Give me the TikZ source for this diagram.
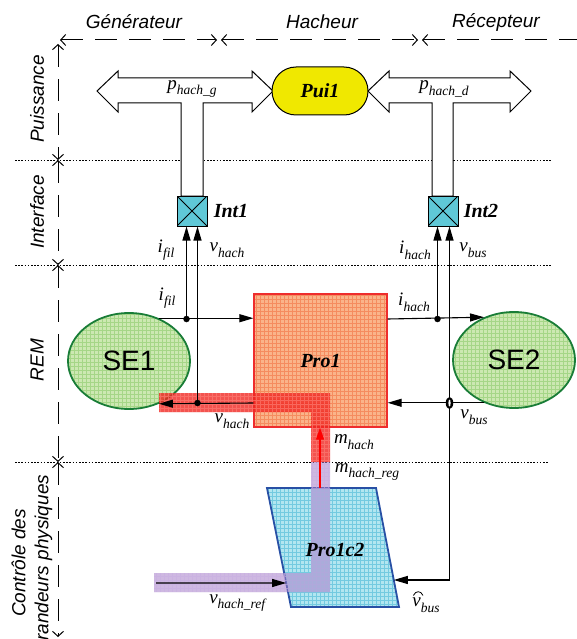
\documentclass[tikz,border=0pt]{standalone}
\usepackage{fontspec}
\setmainfont{Liberation Serif}
\newfontfamily\axisfont{Liberation Sans}
\usetikzlibrary{arrows.meta,shapes.geometric,shapes.misc,calc}
\definecolor{puiyellow}{RGB}{240,232,0}
\definecolor{intcyan}{RGB}{95,200,215}
\definecolor{sefill}{RGB}{204,232,178}
\definecolor{segrid}{RGB}{165,214,135}
\definecolor{seborder}{RGB}{25,125,55}
\definecolor{profill}{RGB}{250,180,138}
\definecolor{progrid}{RGB}{245,140,95}
\definecolor{proborder}{RGB}{238,45,45}
\definecolor{ptwofill}{RGB}{178,230,240}
\definecolor{ptwogrid}{RGB}{115,202,224}
\definecolor{ptwoborder}{RGB}{40,80,165}
\definecolor{bandred}{RGB}{240,40,35}
\definecolor{bandredgrid}{RGB}{255,130,120}
\definecolor{bandpurple}{RGB}{165,125,200}
\definecolor{bandpurplegrid}{RGB}{200,175,225}
\newcommand\vv[2]{\textit{#1}\raisebox{-0.3em}{\fontsize{13.5}{14}\selectfont\textit{#2}}}
\begin{document}
\begin{tikzpicture}[x=1pt,y=-1pt,
  arr/.style={line width=1.1pt,-{Triangle[length=14pt,width=8pt]}},
  redarr/.style={line width=1.1pt,red,-{Triangle[length=12pt,width=8pt]}},
  dotline/.style={line width=0.8pt,dash pattern=on 1.6pt off 1.6pt},
  axisline/.style={line width=1pt,dash pattern=on 22pt off 12pt},
  >={Straight Barb[length=5pt,width=11pt]},
  gridfill/.style 2 args={fill=#1,path picture={\draw[#2,line width=0.4pt] (path picture bounding box.south west) grid[step=4pt] (path picture bounding box.north east);}},
  boldlab/.style={font=\fontsize{20}{22}\selectfont\bfseries\itshape},
  varlab/.style={font=\fontsize{19}{21}\selectfont,inner sep=0pt},
  axislab/.style={font=\axisfont\fontsize{19}{21}\selectfont\itshape,inner sep=0pt},
  selab/.style={font=\axisfont\fontsize{28}{30}\selectfont},
  dot/.style={circle,fill=black,inner sep=0pt,minimum size=6.5pt},
  intbox/.style={draw,line width=1pt,fill=intcyan,minimum size=30pt,inner sep=0pt,
    path picture={\draw[line width=0.9pt] (path picture bounding box.south west) -- (path picture bounding box.north east) (path picture bounding box.north west) -- (path picture bounding box.south east);}},
  dblarrow/.style={draw,line width=1pt,fill=white,line join=miter}
]
\useasboundingbox (0,0) rectangle (576,639);

% ---------- axes ----------
\node[axislab] (gen) at (134,22) {Générateur};
\node[axislab] (hac) at (322,22) {Hacheur};
\node[axislab] (rec) at (496,22) {Récepteur};
\coordinate (h0) at (60,40);
\coordinate (h1) at (217,40);
\coordinate (h2) at (221,40);
\coordinate (h3) at (418,40);
\coordinate (h4) at (422,40);
\coordinate (h5) at (582,40);
\draw[axisline,<->] (h0) -- (h1);
\draw[axisline,<->] (h2) -- (h3);
\draw[axisline,<-] (h4) -- (h5);
\coordinate (v0) at (58,44);
\coordinate (v1) at (58,160);
\coordinate (v2) at (58,265);
\coordinate (v3) at (58,462);
\coordinate (v4) at (58,637);
\draw[axisline,<->] (v0) -- (v1);
\draw[axisline,<->] (v1) -- (v2);
\draw[axisline,<->] (v2) -- (v3);
\draw[axisline,<->] (v3) -- (v4);

\draw[dotline] (15,160) -- (552,160);
\draw[dotline] (15,265) -- (552,265);
\draw[dotline] (15,462) -- (548,462);

\node[axislab,rotate=90] (lpui) at (37,99) {Puissance};
\node[axislab,rotate=90] (lint) at (37,212) {Interface};
\node[axislab,rotate=90] (lrem) at (37,360) {REM};
\node[axislab,rotate=90,align=center,font=\axisfont\fontsize{19}{23}\selectfont\itshape] (lctl) at (32,563) {Contrôle des\\grandeurs physiques};

% ---------- power level ----------
\path[dblarrow] (97,91) -- (118,71) -- (118,78) -- (252,78) -- (252,71) -- (273,91) -- (252,112) -- (252,103) -- (203,103) -- (203,196) -- (181,196) -- (181,103) -- (118,103) -- (118,112) -- cycle;
\path[dblarrow] (368,91) -- (389,71) -- (389,78) -- (510,78) -- (510,71) -- (531,91) -- (510,112) -- (510,103) -- (453,103) -- (453,196) -- (432,196) -- (432,103) -- (389,103) -- (389,112) -- cycle;
\node[rounded rectangle,draw,line width=1pt,fill=puiyellow,minimum width=96pt,minimum height=48pt,inner sep=0pt,boldlab] (Pui1) at (320,91) {Pui1};
\node[varlab] (pg) at (192,89) {\vv{p}{hach\_g}};
\node[varlab] (pd) at (444,89) {\vv{p}{hach\_d}};

% ---------- interface ----------
\node[intbox] (Int1) at (192,211) {};
\node[intbox] (Int2) at (443,211) {};
\node[boldlab,inner sep=0pt] (l1) at (231,211) {Int1};
\node[boldlab,inner sep=0pt] (l2) at (481,211) {Int2};

% ---------- REM ----------
\node[ellipse,minimum width=122pt,minimum height=96pt,inner sep=0pt,draw=seborder,line width=1.8pt,gridfill={sefill}{segrid},selab] (SE1) at (129,361) {SE1};
\node[ellipse,minimum width=122pt,minimum height=96pt,inner sep=0pt,draw=seborder,line width=1.8pt,gridfill={sefill}{segrid},selab] (SE2) at (514,360) {SE2};
\node[draw=proborder,line width=1.3pt,gridfill={profill}{progrid},minimum width=133pt,minimum height=133pt,inner sep=0pt,boldlab] (Pro1) at (320.5,360.5) {Pro1};

% ---------- control ----------
\coordinate (ptl) at (267,488);
\coordinate (ptr) at (376,488);
\coordinate (pbr) at (399,607);
\coordinate (pbl) at (291,607);
\path[draw=ptwoborder,line width=1.8pt,gridfill={ptwofill}{ptwogrid}] (ptl) -- (ptr) -- (pbr) -- (pbl) -- cycle;
\coordinate (L) at ($(pbl)!0.2017!(ptl)$);
\coordinate (R) at ($(pbr)!0.227!(ptr)$);

% ---------- bands ----------
\path[fill=bandred,fill opacity=0.8,path picture={\draw[bandredgrid,line width=0.4pt,opacity=0.6] (path picture bounding box.south west) grid[step=4pt] (path picture bounding box.north east);}]
  (159,393) -- (330,393) -- (330,462) -- (311,462) -- (311,412) -- (159,412) -- cycle;
\path[fill=bandpurple,fill opacity=0.55,path picture={\draw[bandpurplegrid,line width=0.4pt,opacity=0.6] (path picture bounding box.south west) grid[step=4pt] (path picture bounding box.north east);}]
  (311,462) -- (330,462) -- (330,592) -- (154,592) -- (154,573) -- (311,573) -- cycle;
\node[boldlab] (Pro1c2) at (335,550) {Pro1c2};

% ---------- connectors ----------
\coordinate (d1) at (186.5,319);
\coordinate (d2) at (197.5,403);
\coordinate (d3) at (437.5,319);
\coordinate (jb) at (449.5,403);
\coordinate (mx) at (320,0);
\coordinate (refs) at (156,583);

\draw[arr] (SE1.55) -- (SE1.55 -| Pro1.west);
\draw[arr] (d1) -- (d1 |- Int1.south);
\draw[arr] (Pro1.west |- d2) -- (SE1.-55);
\draw[arr] (d2) -- (d2 |- Int1.south);
\draw[arr] (Pro1.east |- d3) -- (SE2.125);
\draw[arr] (d3) -- (d3 |- Int2.south);
\draw[arr] (SE2.235) -- (SE2.235 -| Pro1.east);
\draw[arr] (jb) -- (jb |- Int2.south);
\draw[arr] (jb) |- (R);
\draw[redarr] (mx |- ptl) -- (mx |- Pro1.south);
\draw[arr] (refs) -- (L);

\node[dot] (n1) at (d1) {};
\node[dot] (n2) at (d2) {};
\node[dot] (n3) at (d3) {};
\node[ellipse,fill=black,minimum width=7.5pt,minimum height=12pt,inner sep=0pt] (jbm) at (jb) {};
\fill[white] (jb) ellipse (1.1pt and 3.5pt);

% ---------- variable labels ----------
\node[varlab] (tifil) at (166,250) {\vv{i}{fil}};
\node[varlab] (tvh) at (227,250) {\vv{v}{hach}};
\node[varlab] (tih) at (415,250) {\vv{i}{hach}};
\node[varlab] (tvb) at (473,250) {\vv{v}{bus}};
\node[varlab] (rifil) at (167,298) {\vv{i}{fil}};
\node[varlab] (rvh) at (232,421) {\vv{v}{hach}};
\node[varlab] (rih) at (414,302) {\vv{i}{hach}};
\node[varlab] (rvb) at (474,417) {\vv{v}{bus}};
\node[varlab] (mh) at (354,442) {\vv{m}{hach}};
\node[varlab] (mhr) at (367,472) {\vv{m}{hach\_reg}};
\node[varlab] (vref) at (238,603) {\vv{v}{hach\_ref}};
\node[varlab] (vbh) at (426,605) {\vv{v}{bus}};
\draw[line width=0.8pt] ($(vbh.base west)+(1.2,-11)$) .. controls ($(vbh.base west)+(3.5,-16)$) and ($(vbh.base west)+(8.5,-16)$) .. ($(vbh.base west)+(10.8,-11)$);
\end{tikzpicture}
\end{document}
